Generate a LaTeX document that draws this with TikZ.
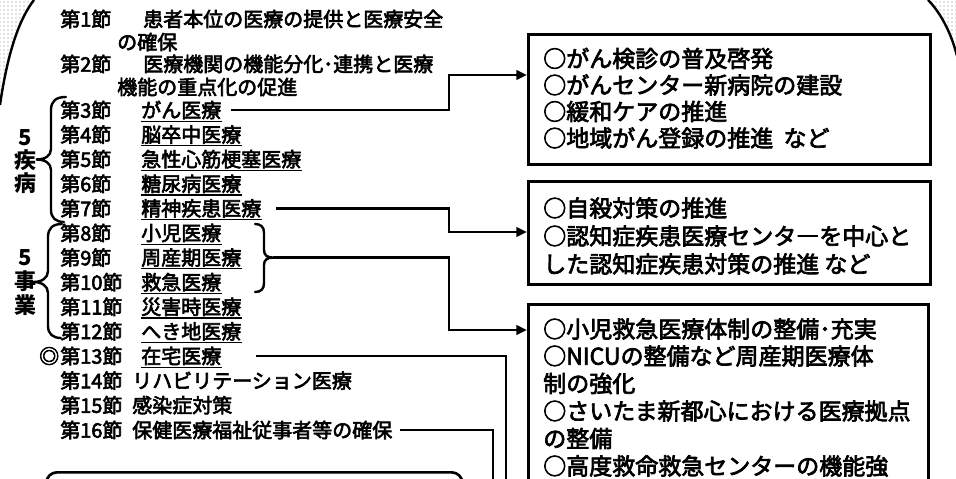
\documentclass[tikz,border=0pt]{standalone}
\usepackage{fontspec}
\setmainfont{Noto Sans CJK JP}
\newfontfamily\jp{Noto Sans CJK JP}[FakeBold=3]
\usetikzlibrary{arrows.meta,patterns}
\begin{document}
\begin{tikzpicture}[x=0.75pt,y=-0.75pt,
  lbl/.style={inner sep=0pt,anchor=west,font=\jp\fontsize{15pt}{17pt}\selectfont},
  ul/.style={append after command={([yshift=-1.3pt]\tikzlastnode.south west) edge[line width=0.9pt] ([yshift=-1.3pt]\tikzlastnode.south east)}},
  grp/.style={inner sep=0pt,font=\fontsize{16.5pt}{18pt}\selectfont\bfseries},
  btxt/.style={inner sep=0pt,anchor=west,font=\jp\fontsize{17.25pt}{19pt}\selectfont},
  frame/.style={draw,line width=2.3pt,inner sep=0pt,anchor=north west},
  conn/.style={line width=2pt},
  arr/.style={conn,-{Triangle[length=8pt,width=7pt]}},
  brace/.style={line width=1.8pt,line cap=round},
  stip/.style={pattern=dots,pattern color=gray},
  rim/.style={line width=1.8pt}]
\useasboundingbox (0,0) rectangle (956,478);
\clip (0,0) rectangle (956,478);

% corners of the large background shape
\fill[stip] (0,0) -- (34,0) .. controls (20,18) and (8,50) .. (0,105) -- cycle;
\draw[rim] (34,0) .. controls (20,18) and (8,50) .. (0,105);
\fill[stip] (928,0) .. controls (940,12) and (951,32) .. (957,56) -- (957,0) -- cycle;
\draw[rim] (928,0) .. controls (940,12) and (951,32) .. (957,56);

% list of sections
\node[lbl] (s1) at (60,19) {第1節};
\node[lbl] (t1) at (143,19) {患者本位の医療の提供と医療安全};
\node[lbl] (t1b) at (117,42) {の確保};
\node[lbl] (s2) at (60,64) {第2節};
\node[lbl] (t2) at (143,64) {医療機関の機能分化･連携と医療};
\node[lbl] (t2b) at (117,87) {機能の重点化の促進};

\node[lbl] (s3) at (60,110) {第3節};
\node[lbl,ul] (t3) at (141,110) {がん医療};
\node[lbl] (s4) at (60,134.6) {第4節};
\node[lbl,ul] (t4) at (141,134.6) {脳卒中医療};
\node[lbl] (s5) at (60,159.2) {第5節};
\node[lbl,ul] (t5) at (141,159.2) {急性心筋梗塞医療};
\node[lbl] (s6) at (60,183.8) {第6節};
\node[lbl,ul] (t6) at (141,183.8) {糖尿病医療};
\node[lbl] (s7) at (60,208.4) {第7節};
\node[lbl,ul] (t7) at (141,208.4) {精神疾患医療};
\node[lbl] (s8) at (60,233) {第8節};
\node[lbl,ul] (t8) at (141,233) {小児医療};
\node[lbl] (s9) at (60,257.6) {第9節};
\node[lbl,ul] (t9) at (141,257.6) {周産期医療};
\node[lbl] (s10) at (60,282.2) {第10節};
\node[lbl,ul] (t10) at (141,282.2) {救急医療};
\node[lbl] (s11) at (60,306.8) {第11節};
\node[lbl,ul] (t11) at (141,306.8) {災害時医療};
\node[lbl] (s12) at (60,331.4) {第12節};
\node[lbl,ul] (t12) at (141,331.4) {へき地医療};
\node[lbl,anchor=east] (mk) at (59.5,356) {◎};
\node[lbl] (s13) at (60,356) {第13節};
\node[lbl,ul] (t13) at (141,356) {在宅医療};
\node[lbl] (s14) at (60,380.6) {第14節};
\node[lbl] (t14) at (132,380.6) {リハビリテーション医療};
\node[lbl] (s15) at (60,405.2) {第15節};
\node[lbl] (t15) at (132,405.2) {感染症対策};
\node[lbl] (s16) at (60,430) {第16節};
\node[lbl] (t16) at (132,430) {保健医療福祉従事者等の確保};

% group labels
\node[grp] (g1a) at (25,138) {5};
\node[grp] (g1b) at (25,160.5) {疾};
\node[grp] (g1c) at (25,183) {病};
\node[grp] (g2a) at (25,258) {5};
\node[grp] (g2b) at (25,281.5) {事};
\node[grp] (g2c) at (25,305) {業};

% braces
\draw[brace] (66,97) .. controls (56,97) and (51,101) .. (51,110) -- (51,149)
  .. controls (51,156) and (45,159.5) .. (36,159.5)
  .. controls (45,159.5) and (51,163) .. (51,170) -- (51,210)
  .. controls (51,218) and (56,222) .. (64,222);
\draw[brace] (62,224) .. controls (53,224) and (48,228) .. (48,237) -- (48,271)
  .. controls (48,278) and (42,282) .. (33,282)
  .. controls (42,282) and (48,286) .. (48,293) -- (48,326)
  .. controls (48,334) and (53,338) .. (61,338);
\draw[brace] (255,224) .. controls (261,224) and (264,227) .. (264,233) -- (264,250)
  .. controls (264,255) and (267,257.6) .. (273,257.6)
  .. controls (267,257.6) and (264,260) .. (264,265) -- (264,283)
  .. controls (264,289) and (261,292) .. (255,292);
\coordinate (bt) at (273,257.6);

% boxes
\node[frame,minimum width=301.5pt,minimum height=97.5pt] (b1) at (527,33) {};
\node[frame,minimum width=301.5pt,minimum height=77.25pt] (b2) at (527,180) {};
\node[frame,minimum width=300pt,minimum height=170pt] (b3) at (527,303) {};
\node[frame,rounded corners=8pt,line width=2pt,minimum width=312pt,minimum height=80pt] (b4) at (45,471) {};

\node[btxt] (b1l1) at (543,58.5) {○がん検診の普及啓発};
\node[btxt] (b1l2) at (543,85) {○がんセンター新病院の建設};
\node[btxt] (b1l3) at (543,111.5) {○緩和ケアの推進};
\node[btxt] (b1l4) at (543,138) {○地域がん登録の推進\ \ など};

\node[btxt] (b2l1) at (543,208) {○自殺対策の推進};
\node[btxt] (b2l2) at (543,236) {○認知症疾患医療センタ―を中心と};
\node[btxt] (b2l3) at (543,264) {した認知症疾患対策の推進 など};

\node[btxt] (b3l1) at (543,329) {○小児救急医療体制の整備･充実};
\node[btxt] (b3l2) at (543,356) {○NICUの整備など周産期医療体};
\node[btxt] (b3l3) at (543,383.5) {制の強化};
\node[btxt] (b3l4) at (543,411) {○さいたま新都心における医療拠点};
\node[btxt] (b3l5) at (543,438.5) {の整備};
\node[btxt] (b3l6) at (543,466) {○高度救命救急センターの機能強};

% connectors
\coordinate (j1) at (449,75);
\coordinate (j2) at (449,232);
\coordinate (j3) at (449,330);
\coordinate (c13) at (506,490);
\coordinate (c16) at (493,490);
\draw[arr] (t3.east) ++(9,0) -| (j1) -- (j1 -| b1.west);
\draw[arr] (t7.east) ++(14,0) -| (j2) -- (j2 -| b2.west);
\draw[arr] (bt) -| (j3) -- (j3 -| b3.west);
\draw[conn] (t13.east) ++(34,0) -| (c13);
\draw[conn] (t16.east) ++(7,0) -| (c16);
\end{tikzpicture}
\end{document}
